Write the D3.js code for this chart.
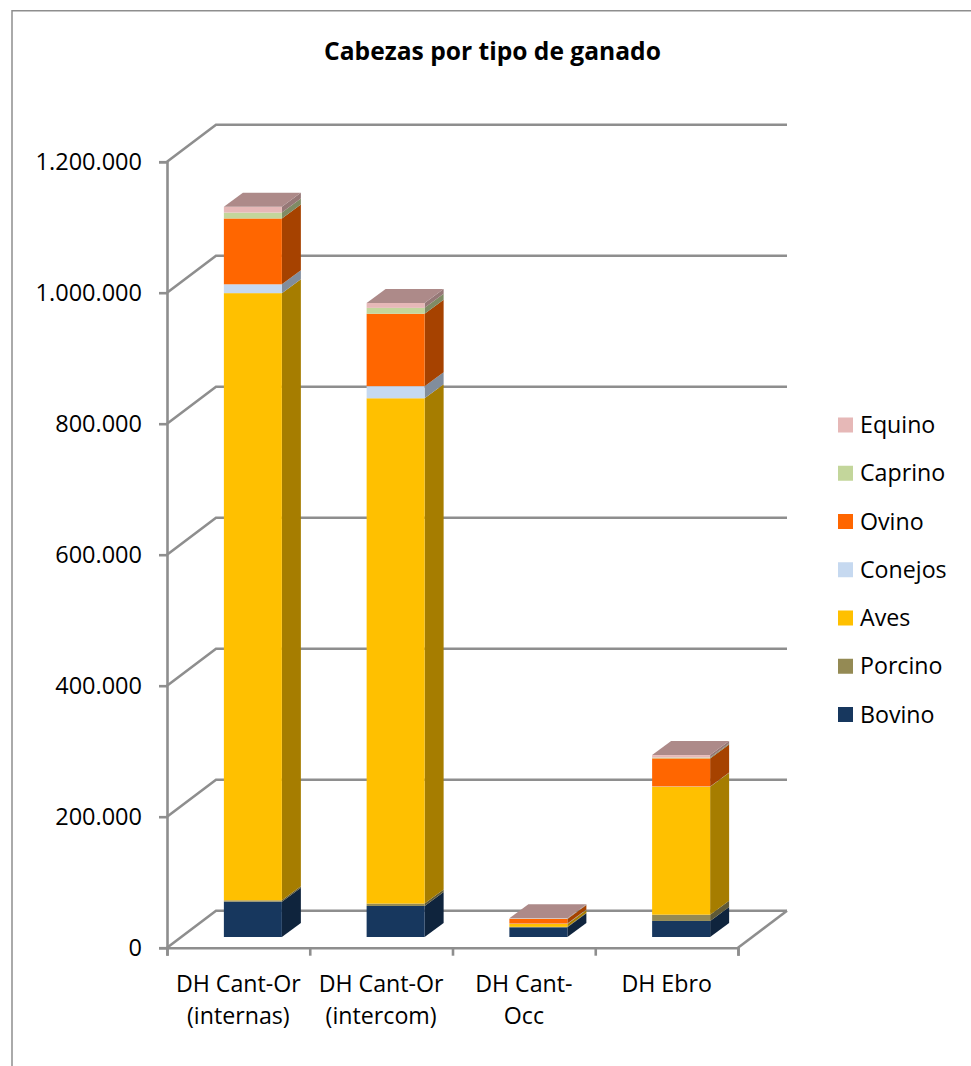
<!DOCTYPE html>
<html>
<head>
<meta charset="utf-8">
<script src="https://cdn.jsdelivr.net/npm/d3@7"></script>
<style>
body { margin: 0; background: #fff; }
text { font-family: "Open Sans", sans-serif; fill: #000; }
</style>
</head>
<body>
<div id="chart-area"></div>
<script>
const categories = ["DH Cant-Or\n(internas)", "DH Cant-Or\n(intercom)", "DH Cant-\nOcc", "DH Ebro"]
const seriesNames = ["Bovino", "Porcino", "Aves", "Conejos", "Ovino", "Caprino", "Equino"]
const bovino = [54000, 47400, 14800, 24500]
const porcino = [2000, 3600, 700, 9600]
const aves = [927000, 771500, 4400, 195300]
const conejos = [13500, 18500, 600, 500]
const ovino = [100500, 110500, 7000, 42800]
const caprino = [9000, 9000, 500, 1300]
const equino = [8700, 7500, 600, 3700]
const seriesValues = [bovino, porcino, aves, conejos, ovino, caprino, equino]
const colors = ["#17375E", "#948A54", "#FFC000", "#C6D9F0", "#FF6600", "#C3D69B", "#E6B8B7"]
const yTicks = [0, 200000, 400000, 600000, 800000, 1000000, 1200000]

const width = 971, height = 1066
const axisColor = "#8E8E8E"
const fontSize = 23.2

const svg = d3.select("#chart-area").append("svg")
	.attr("width", width)
	.attr("height", height)
	.style("display", "block")

// frame of the chart, only top and left are inside the picture
svg.append("path")
	.attr("d", "M12,1066V10.7H971")
	.attr("fill", "none")
	.attr("stroke", axisColor)
	.attr("stroke-width", 1.5)

svg.append("text")
	.attr("x", 492.5)
	.attr("y", 59.5)
	.attr("text-anchor", "middle")
	.attr("font-size", 24.6)
	.attr("font-weight", 700)
	.text("Cabezas por tipo de ganado")

const x = d3.scaleBand().domain(d3.range(categories.length)).range([167, 738])
const y = d3.scaleLinear().domain([0, 1200000]).range([947.7, 161.7])

// 3d offsets: back wall, start of the bar on the floor, bar depth
const wall = { dx: 49, dy: -37 }
const floor = { dx: 14.5, dy: -10.7 }
const depth = { dx: 19, dy: -14 }
const barWidth = 58

// gridlines on the back wall and left wall
const grid = svg.append("g").attr("fill", "none").attr("stroke", axisColor).attr("stroke-width", 2.6)
grid.selectAll("path")
	.data(yTicks)
	.enter().append("path")
	.attr("d", d => `M${x.range()[0]},${y(d)}l${wall.dx},${wall.dy}H${x.range()[1] + wall.dx}`)
// floor right edge
grid.append("path")
	.attr("d", `M${x.range()[1]},${y(0)}l${wall.dx},${wall.dy}`)

// axes
const locale = d3.formatLocale({ decimal: ",", thousands: ".", grouping: [3], currency: ["", "€"] })
const yAxis = d3.axisLeft(y).tickValues(yTicks).tickSize(8).tickPadding(17).tickFormat(locale.format(",d"))
const gy = svg.append("g").attr("transform", `translate(${x.range()[0]},0)`).call(yAxis)
const tickScale = d3.scaleLinear().domain([0, categories.length]).range(x.range())
const xAxis = d3.axisBottom(tickScale).tickValues(d3.range(categories.length + 1)).tickSize(8).tickFormat("")
const gx = svg.append("g").attr("transform", `translate(0,${y(0)})`).call(xAxis)
for (const g of [gx, gy]) {
	g.selectAll("path.domain").attr("stroke", axisColor).attr("stroke-width", 2.6)
	g.selectAll("line").attr("stroke", axisColor).attr("stroke-width", 2.6)
}
gy.selectAll("text").attr("font-size", 23.5).attr("dy", "0.35em").style("font-family", '"Open Sans", sans-serif')

// category labels
svg.append("g").selectAll("text")
	.data(categories)
	.enter().append("text")
	.attr("text-anchor", "middle")
	.attr("font-size", fontSize)
	.each(function(d, i) {
		d.split("\n").forEach((line, k) => {
			d3.select(this).append("tspan")
				.attr("x", x(i) + x.bandwidth() / 2)
				.attr("y", 992 + k * 32)
				.text(line)
		})
	})

// stacked bars
const rows = categories.map((c, i) => {
	const row = { i }
	seriesNames.forEach((s, k) => { row[s] = seriesValues[k][i] })
	return row
})
const stacked = d3.stack().keys(seriesNames)(rows)

const left = i => x(i) + x.bandwidth() / 2 - barWidth / 2 + floor.dx
const base = v => y(v) + floor.dy
const shade = (c, f) => { const r = d3.rgb(c); return d3.rgb(r.r * f, r.g * f, r.b * f).formatHex() }

const bars = svg.append("g")
stacked.forEach((layer, k) => {
	layer.forEach((d, i) => {
		const x0 = left(i), x1 = x0 + barWidth, yb = base(d[0]), yt = base(d[1])
		// side
		bars.append("path")
			.attr("d", `M${x1},${yb}l${depth.dx},${depth.dy}V${yt + depth.dy}L${x1},${yt}Z`)
			.attr("fill", shade(colors[k], 0.65))
		// front
		bars.append("rect")
			.attr("x", x0)
			.attr("y", yt)
			.attr("width", barWidth)
			.attr("height", yb - yt)
			.attr("fill", colors[k])
		// only the last series shows its top
		if (k === stacked.length - 1) {
			bars.append("path")
				.attr("d", `M${x0},${yt}l${depth.dx},${depth.dy}h${barWidth}l${-depth.dx},${-depth.dy}Z`)
				.attr("fill", shade(colors[k], 0.75))
		}
	})
})

// legend, top series first
const legendY = d3.scalePoint().domain(seriesNames.slice().reverse()).range([425, 714.5])
const legend = svg.append("g").selectAll("g")
	.data(seriesNames.slice().reverse())
	.enter().append("g")
	.attr("transform", d => `translate(838,${legendY(d)})`)
legend.append("rect")
	.attr("y", -7.5)
	.attr("width", 15)
	.attr("height", 15)
	.attr("fill", d => colors[seriesNames.indexOf(d)])
legend.append("text")
	.attr("x", 22)
	.attr("dy", "0.35em")
	.attr("font-size", fontSize)
	.text(d => d)
</script>
</body>
</html>
